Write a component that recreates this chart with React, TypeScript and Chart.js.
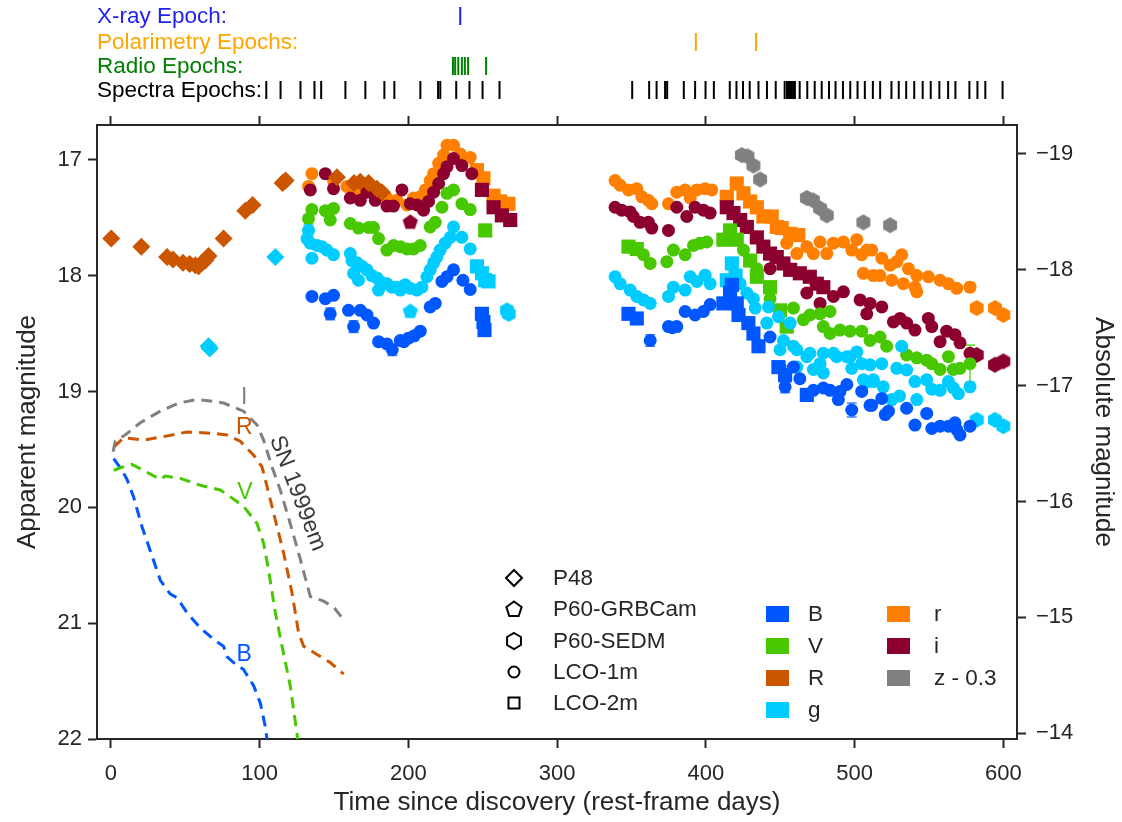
import React, { useEffect, useRef } from "react";
import { Chart, registerables } from "chart.js";

Chart.register(...registerables);

const FONT = "'Liberation Sans', Arial, Helvetica, sans-serif";
const INK = "#262626";

// ---------- axes ----------
const X_MIN = -9.3;
const X_MAX = 609.2;
const Y_MIN = 16.7;
const Y_MAX = 22.0;
const DIST_MOD = 35.95;
const X_TICKS = [0, 100, 200, 300, 400, 500, 600];
const Y_TICKS = [17, 18, 19, 20, 21, 22];
const Y2_TICKS = [-19, -18, -17, -16, -15, -14];

// ---------- epochs (days) ----------
const EPOCH_LABELS = ["X-ray Epoch:", "Polarimetry Epochs:", "Radio Epochs:", "Spectra Epochs:"];
const XRAY_EPOCHS = [234.9];
const POL_EPOCHS = [393.3, 433.8];
const RADIO_EPOCHS = [230.0, 231.5, 233.6, 236.0, 238.0, 240.2, 252.3];
const SPECTRA_EPOCHS = [
  104.5, 114.1, 127.5, 136.9, 141.4, 157.7, 171.1, 183.9, 190.6, 208.1, 220.0, 221.5, 232.2, 241.1, 249.9, 261.3,
  350.5, 361.9, 366.9, 372.6, 374.0, 385.2, 392.8, 399.8, 405.4, 416.1, 420.6, 425.0, 429.5, 435.4, 441.1, 447.0,
  453.0, 454.6, 455.9, 456.8, 457.9, 459.1, 459.9, 463.1, 468.2, 473.2, 477.9, 482.8, 487.2, 492.2, 497.1, 502.0,
  506.9, 512.3, 517.2, 524.8, 529.7, 534.7, 540.1, 545.8, 551.2, 557.0, 562.9, 567.8, 577.2, 582.6, 587.9, 599.5,
];

// ---------- legend text ----------
const INSTRUMENTS = ["P48", "P60-GRBCam", "P60-SEDM", "LCO-1m", "LCO-2m"];
const BAND_NAMES_1 = ["B", "V", "R", "g"];
const BAND_NAMES_2 = ["r", "i", "z - 0.3"];

// ---------- photometry: [day, mag, err?] ----------
const R_P48 = [
  [0.3, 17.68], [20.5, 17.75], [37.8, 17.84], [41.8, 17.86], [48.5, 17.89], [53, 17.9], [56.8, 17.91], [59, 17.92],
  [61.3, 17.89], [63.5, 17.87], [65.7, 17.83], [75.8, 17.68], [90.4, 17.44], [95.3, 17.39], [115.5, 17.2], [117.5, 17.18],
  [152, 17.15], [163.5, 17.2], [167.7, 17.19], [173.3, 17.2], [178.9, 17.25], [182.3, 17.28],
];
const G_P48 = [[65.7, 18.61, 0.03], [66.5, 18.63], [110.6, 17.84]];

const B_LCO1 = [
  [135.2, 18.18, 0.03], [144.2, 18.2, 0.02], [149.7, 18.17, 0.02], [147.5, 18.33, 0.05], [159.8, 18.3, 0.02],
  [167.7, 18.3, 0.02], [172.2, 18.34], [176.6, 18.41], [163.2, 18.44, 0.05], [180, 18.57], [185.6, 18.59],
  [189.2, 18.64, 0.05], [194.6, 18.56], [197, 18.57], [200.1, 18.54], [204, 18.52], [208, 18.48], [214.7, 18.27],
  [218.1, 18.24], [222.6, 18.05], [226, 18.01], [230.4, 17.95], [236.7, 18.04, 0.03], [241.6, 18.12],
  [362.6, 18.56, 0.05], [374.9, 18.44], [377.5, 18.45], [380.5, 18.44], [386.1, 18.31], [392.8, 18.34], [398.4, 18.31],
  [402.9, 18.25], [443.2, 18.53], [449.9, 18.79], [453.3, 18.96, 0.05], [458.9, 18.79], [463.2, 18.89], [472.3, 18.99],
  [479, 18.97], [483.5, 18.99], [489.1, 19.07], [490.2, 19.0], [494.8, 18.94], [498.1, 19.16, 0.06], [504.8, 19.0],
  [510.4, 19.12], [511.5, 19.12], [518.3, 19.06], [520.6, 19.2], [522.8, 19.17], [535, 19.145], [540.6, 19.29],
  [548.5, 19.19], [551.9, 19.32], [557.5, 19.3], [563.1, 19.3], [567.5, 19.27], [568.7, 19.33], [570.9, 19.375],
  [577.6, 19.3],
];
const B_LCO2 = [
  [249.5, 18.33], [250.5, 18.4], [251.2, 18.47], [348, 18.33], [353.6, 18.37], [411.8, 18.24], [416.3, 18.15],
  [417.5, 18.08], [420.8, 18.24], [422, 18.34], [428.6, 18.41], [432, 18.5], [435.4, 18.61], [448.8, 18.79],
  [453.3, 18.86], [467.9, 19.03, 0.05],
];

const V_LCO1 = [
  [132.9, 17.51, 0.03], [135.2, 17.43], [144.2, 17.44], [149.7, 17.42], [147.5, 17.52], [161, 17.55], [166.5, 17.59],
  [173.3, 17.585], [176.6, 17.585], [180, 17.68], [185.6, 17.78], [190, 17.74], [194.6, 17.75], [199.1, 17.77],
  [203.5, 17.77], [208, 17.74], [214.7, 17.58], [218.1, 17.54], [222.6, 17.41], [226, 17.29], [230.4, 17.26],
  [236, 17.38], [241.6, 17.43],
  [358.1, 17.82], [362.6, 17.895, 0.03], [373.8, 17.88], [378.2, 17.78], [386.1, 17.82], [391.7, 17.74],
  [396.1, 17.72], [400.7, 17.71], [425.3, 17.78], [434.3, 17.94], [443.2, 18.2], [449.9, 18.33], [458.9, 18.28],
  [465.6, 18.38], [470, 18.34], [476.8, 18.33], [483.5, 18.31], [479, 18.44], [483.5, 18.5], [490.2, 18.47],
  [496.9, 18.48], [504.8, 18.48], [510.4, 18.56], [517.1, 18.53], [521.6, 18.61], [535, 18.685], [541.8, 18.71],
  [548.5, 18.73], [551.9, 18.76], [557.5, 18.81], [563.1, 18.7], [566.4, 18.81], [570.9, 18.8], [577.6, 18.76, 0.16],
];
const V_LCO2 = [
  [251.7, 17.61], [348, 17.75], [353.6, 17.77], [411.8, 17.69], [416.3, 17.61], [420.8, 17.69], [429.8, 17.87],
  [434.3, 18.01], [443.2, 18.1], [449.9, 18.3], [454.4, 18.44],
];

const G_LCO1 = [
  [132.9, 17.61, 0.05], [131.9, 17.68], [134.1, 17.72], [135.2, 17.85], [138.6, 17.74], [141.9, 17.75], [145.3, 17.78],
  [149.7, 17.82], [161, 17.81], [162.1, 17.87], [163.2, 17.98], [165.5, 17.89], [166.5, 18.04], [168.8, 17.92],
  [172.2, 17.95], [175.5, 18.0], [178.9, 18.02], [180, 18.125], [181.1, 18.05], [185.6, 18.07], [189, 18.1],
  [192.3, 18.1], [194.6, 18.125], [197.9, 18.08], [201.3, 18.11], [205.8, 18.125], [209.1, 18.1], [212.5, 18.01],
  [214.7, 17.95], [217, 17.89], [219.2, 17.84], [221.4, 17.78], [224.8, 17.72], [228.2, 17.67], [230.4, 17.58],
  [236, 17.67], [241.6, 17.77],
  [339, 18.01], [342.4, 18.07], [349.1, 18.125], [353.6, 18.18], [358.1, 18.21], [362.6, 18.24], [374.9, 18.18],
  [378.2, 18.1], [386.1, 18.125], [389.5, 18.01], [394, 18.05], [399.5, 17.996], [402.9, 18.07], [423.1, 18.07],
  [427.6, 18.15], [432, 18.2], [433.2, 18.28], [442.1, 18.27], [441, 18.41], [448.8, 18.355], [456.7, 18.41],
  [452.2, 18.56], [449.9, 18.64], [458.9, 18.61], [461.2, 18.64], [467.9, 18.7], [470, 18.67], [476.8, 18.76],
  [479, 18.67], [485.8, 18.67], [488, 18.7], [494.8, 18.7], [497, 18.7], [501.5, 18.66, 0.04], [461.2, 18.79],
  [472.3, 18.81], [479, 18.84], [498.1, 18.8], [504.8, 18.76], [508.2, 18.92], [512.6, 18.9], [510.4, 18.77],
  [518.3, 18.76], [528.4, 18.8], [535, 18.815], [531.7, 18.61, 0.03], [505.9, 18.9], [512.6, 18.915], [519.3, 18.96],
  [525, 19.07], [530.2, 19.04], [541.8, 19.07], [540.6, 18.915], [548.5, 18.9], [551.9, 18.98], [557.5, 18.99],
  [563.1, 18.915], [566.4, 18.97], [569.8, 19.02], [577.6, 18.96, 0.03],
];
const G_LCO2 = [[246.1, 17.92], [249.5, 17.98], [251.7, 18.04], [253.9, 18.05], [414.1, 18.04], [417.5, 17.895], [420, 18.0]];
const G_GRB = [[201.3, 18.31]];
const G_SEDM = [[266.3, 18.3, 0.03], [267.5, 18.33], [582.1, 19.245], [594.4, 19.245], [600, 19.3]];

const RR_LCO1 = [
  [132.9, 17.23], [135.2, 17.12], [149.7, 17.18], [158.7, 17.23], [164.3, 17.26], [169.9, 17.25], [178.9, 17.28],
  [185.6, 17.33], [192.3, 17.35], [199.1, 17.39], [203.5, 17.33], [208, 17.32], [211.4, 17.26], [214.7, 17.18],
  [217, 17.12], [220.4, 17.03], [223.7, 16.96], [226, 16.875], [230.4, 16.875], [234.9, 16.95], [241.6, 16.98],
  [339, 17.18], [342.4, 17.22], [348, 17.26], [353.6, 17.25], [357, 17.32], [361.4, 17.35], [363.7, 17.38],
  [374.9, 17.38], [380.5, 17.28], [386.1, 17.26], [389.5, 17.33], [394, 17.26], [399.5, 17.25], [404, 17.26],
  [454.4, 17.72], [461.2, 17.81], [467.9, 17.75], [472.3, 17.81], [476.8, 17.71], [481.3, 17.81], [485.8, 17.72],
  [492.5, 17.71], [498.1, 17.78], [501.5, 17.69], [504.8, 17.82], [508.2, 17.78], [511.5, 17.78], [518.3, 17.85],
  [523.9, 17.91], [528.4, 17.88], [531.7, 17.82], [536.2, 17.94], [541.8, 18.0], [549.6, 18.01], [557.5, 18.04],
  [563.1, 18.07], [568.7, 18.11], [577.6, 18.1, 0.04], [505.9, 17.98], [512.6, 18.0], [517.1, 18.0], [525, 18.04],
  [532.8, 18.07], [540.6, 18.1], [541.8, 18.14],
];
const RR_LCO2 = [
  [246.1, 17.09], [250.5, 17.16], [257.3, 17.31], [261.8, 17.36], [267.3, 17.38], [414.1, 17.32], [420.8, 17.205],
  [425.3, 17.29], [429.8, 17.36], [434.3, 17.41], [438.7, 17.49], [444.3, 17.49], [447.7, 17.58], [451.1, 17.59],
  [456.7, 17.64], [462.2, 17.65],
];
const RR_SEDM = [[582.1, 18.28], [594.4, 18.28], [600, 18.34]];

const I_LCO1 = [
  [134.1, 17.26], [144.2, 17.12], [149.7, 17.25], [161, 17.33], [167.7, 17.35], [172.2, 17.28], [177.8, 17.35],
  [185.6, 17.4], [190, 17.4], [195.7, 17.26], [201.3, 17.38], [205.8, 17.39], [210.2, 17.435], [213.6, 17.36],
  [217, 17.28], [220.4, 17.205], [223.7, 17.12], [226, 17.06], [230.4, 16.99], [236, 17.05], [242.7, 17.12],
  [339, 17.41], [343.5, 17.435], [349.1, 17.45], [351.3, 17.49], [355.8, 17.54], [361.4, 17.54], [363.7, 17.59],
  [374.9, 17.61], [380.5, 17.41], [387.2, 17.49], [392.8, 17.41], [398.4, 17.435], [402.9, 17.46], [443.2, 17.94],
  [467.9, 18.15], [476.8, 18.24], [485.8, 18.18], [492.5, 18.14], [503.7, 18.21], [508.2, 18.33], [510.4, 18.24],
  [518.3, 18.27], [526.1, 18.4], [530.6, 18.37], [535, 18.41], [540.6, 18.47], [549.6, 18.37, 0.03], [551.9, 18.44],
  [557.5, 18.57], [561.9, 18.48], [567.5, 18.51], [570.9, 18.58], [577.6, 18.67],
];
const I_LCO2 = [
  [249.5, 17.26], [257.3, 17.41], [262.9, 17.48], [268.5, 17.52], [414.1, 17.41], [418.6, 17.46], [423.1, 17.52],
  [427.6, 17.58], [434.3, 17.67], [438.7, 17.75], [443.2, 17.81], [447.7, 17.84], [452.2, 17.895], [456.7, 17.95],
  [463.2, 17.98], [469.9, 18.01], [474.6, 18.07], [479, 18.1],
];
const I_GRB = [[201.3, 17.54]];
const I_SEDM = [[582.1, 18.685], [594.4, 18.77], [600, 18.74]];

const Z_SEDM = [
  [424.2, 16.96, 0.03], [428, 16.97], [432, 17.05], [436.5, 17.17], [467.9, 17.33, 0.03], [472, 17.35],
  [476.8, 17.42], [481.3, 17.48, 0.03], [505.9, 17.54, 0.03], [523.9, 17.565],
];

// ---------- SN 1999em templates ----------
const TPL_I = [
  [1.5, 19.52], [3, 19.43], [9.7, 19.375], [19.8, 19.27], [33.3, 19.17], [45.6, 19.1], [57.9, 19.07], [71.4, 19.09],
  [75.8, 19.1], [89.2, 19.17], [98.3, 19.29], [102.7, 19.42], [108.3, 19.65], [113.9, 19.85], [120.6, 20.14],
  [127.4, 20.45], [134.1, 20.77], [143, 20.81], [149.7, 20.86], [156.5, 20.97],
];
const TPL_R = [
  [1.9, 19.48], [8.6, 19.4], [22, 19.42], [35.5, 19.39], [51.2, 19.35], [66.9, 19.36], [78.1, 19.375], [87, 19.43],
  [96, 19.55], [101.6, 19.65], [105, 19.82], [110.6, 20.11], [116.1, 20.39], [121.8, 20.74], [126.2, 21.08],
  [129.6, 21.2], [138.6, 21.27], [147.5, 21.34], [156.5, 21.44],
];
const TPL_V = [
  [1.9, 19.68], [8.6, 19.65], [14.2, 19.63], [23.2, 19.69], [33.3, 19.76], [36.6, 19.73], [46.7, 19.75], [60.1, 19.81],
  [73.6, 19.85], [76.9, 19.88], [84.8, 19.95], [90.4, 20.01], [98.3, 20.14], [102.7, 20.31], [106, 20.54],
  [110.6, 20.91], [115.1, 21.2], [120.6, 21.54], [125.1, 21.95], [126.5, 22.1],
];
const TPL_B = [
  [1.9, 19.58], [7.5, 19.68], [10.9, 19.76], [15.3, 19.91], [21, 20.17], [27.7, 20.42], [33.3, 20.63], [40, 20.75],
  [44.5, 20.78], [51.2, 20.91], [60.1, 21.04], [69.1, 21.14], [75.8, 21.2], [78.1, 21.29], [82.5, 21.34],
  [89.2, 21.4], [96, 21.54], [100.5, 21.69], [103.8, 21.89], [105.8, 22.08],
];
const TPL_LABELS = ["I", "R", "V", "B"];
const TPL_LABEL_POS = [[89.7, 19.05], [89.7, 19.31], [90.2, 19.87], [89.7, 21.27]];
const SN_LABEL = "SN 1999em";
const SN_LABEL_POS = [125.5, 19.88];

// ---------- colours ----------
const C_B = "#0057ff";
const C_V = "#48c800";
const C_R = "#cc5500";
const C_G = "#00ccff";
const C_RR = "#ff8000";
const C_I = "#8b0030";
const C_Z = "#808080";
const BAND_COLORS_1 = [C_B, C_V, C_R, C_G];
const BAND_COLORS_2 = [C_RR, C_I, C_Z];
const TPL_COLORS = [C_Z, C_R, C_V, C_B];
const EPOCH_COLORS = ["#1f1ff0", "#ffa500", "#008000", "#000000"];

function polyPath(ctx: any, cx: number, cy: number, r: number, sides: number) {
  ctx.beginPath();
  for (let k = 0; k < sides; k++) {
    const a = -Math.PI / 2 + (k * 2 * Math.PI) / sides;
    const px = cx + r * Math.cos(a);
    const py = cy + r * Math.sin(a);
    if (k === 0) ctx.moveTo(px, py);
    else ctx.lineTo(px, py);
  }
  ctx.closePath();
}

function polyCanvas(sides: number, r: number, color: string) {
  const s = Math.ceil(r * 2 + 2);
  const c = document.createElement("canvas");
  c.width = s;
  c.height = s;
  const g = c.getContext("2d")!;
  polyPath(g, s / 2, s / 2, r, sides);
  g.fillStyle = color;
  g.fill();
  return c;
}

const errorBarPlugin = {
  id: "errbars",
  beforeDatasetsDraw(chart: any) {
    const { ctx, chartArea } = chart;
    const xs = chart.scales.x;
    const ys = chart.scales.y;
    ctx.save();
    ctx.beginPath();
    ctx.rect(chartArea.left, chartArea.top, chartArea.right - chartArea.left, chartArea.bottom - chartArea.top);
    ctx.clip();
    chart.data.datasets.forEach((ds: any) => {
      if (ds.showLine) return;
      ctx.strokeStyle = ds.borderColor;
      ctx.globalAlpha = 0.75;
      ctx.lineWidth = 1.6;
      ds.data.forEach((p: any) => {
        if (!p.e) return;
        const px = xs.getPixelForValue(p.x);
        const y1 = ys.getPixelForValue(p.y - p.e);
        const y2 = ys.getPixelForValue(p.y + p.e);
        ctx.beginPath();
        ctx.moveTo(px, y1);
        ctx.lineTo(px, y2);
        ctx.moveTo(px - 5, y1);
        ctx.lineTo(px + 5, y1);
        ctx.moveTo(px - 5, y2);
        ctx.lineTo(px + 5, y2);
        ctx.stroke();
      });
    });
    ctx.restore();
  },
};

const annotationPlugin = {
  id: "annot",
  afterDraw(chart: any) {
    const ctx = chart.ctx;
    const xs = chart.scales.x;
    const ys = chart.scales.y;
    ctx.save();
    // epoch rows
    const rowVals = [XRAY_EPOCHS, POL_EPOCHS, RADIO_EPOCHS, SPECTRA_EPOCHS];
    const rowY = [16, 42, 66, 90];
    ctx.font = `22.5px ${FONT}`;
    ctx.textBaseline = "middle";
    ctx.textAlign = "left";
    EPOCH_LABELS.forEach((lab, k) => {
      const y = rowY[k];
      ctx.fillStyle = EPOCH_COLORS[k];
      ctx.fillText(lab, 97, y + 1);
      ctx.strokeStyle = EPOCH_COLORS[k];
      ctx.lineWidth = 2;
      rowVals[k].forEach((v) => {
        const px = xs.getPixelForValue(v);
        ctx.beginPath();
        ctx.moveTo(px, y - 9);
        ctx.lineTo(px, y + 9);
        ctx.stroke();
      });
    });

    // template labels
    ctx.font = `23px ${FONT}`;
    ctx.textAlign = "center";
    TPL_LABELS.forEach((lab, k) => {
      ctx.fillStyle = TPL_COLORS[k];
      ctx.fillText(lab, xs.getPixelForValue(TPL_LABEL_POS[k][0]), ys.getPixelForValue(TPL_LABEL_POS[k][1]));
    });
    ctx.save();
    ctx.translate(xs.getPixelForValue(SN_LABEL_POS[0]), ys.getPixelForValue(SN_LABEL_POS[1]));
    ctx.rotate((69 * Math.PI) / 180);
    ctx.fillStyle = "#3a3a3a";
    ctx.fillText(SN_LABEL, 0, 0);
    ctx.restore();

    // instrument legend
    ctx.font = `22.5px ${FONT}`;
    ctx.textAlign = "left";
    const instY = [578, 609, 641, 672, 703];
    const mx = 514;
    ctx.strokeStyle = "#000";
    ctx.lineWidth = 2;
    instY.forEach((y, k) => {
      ctx.beginPath();
      if (k === 0) {
        ctx.moveTo(mx, y - 8);
        ctx.lineTo(mx + 8, y);
        ctx.lineTo(mx, y + 8);
        ctx.lineTo(mx - 8, y);
        ctx.closePath();
      } else if (k === 1) {
        polyPath(ctx, mx, y + 0.5, 8, 5);
      } else if (k === 2) {
        polyPath(ctx, mx, y, 8, 6);
      } else if (k === 3) {
        ctx.arc(mx, y, 5.5, 0, Math.PI * 2);
      } else {
        ctx.rect(mx - 5.5, y - 5.5, 11, 11);
      }
      ctx.stroke();
      ctx.fillStyle = INK;
      ctx.fillText(INSTRUMENTS[k], 553, y + 1);
    });

    // band legend
    const bandY = [614, 646, 678, 710];
    BAND_NAMES_1.forEach((lab, k) => {
      ctx.fillStyle = BAND_COLORS_1[k];
      ctx.fillRect(766, bandY[k] - 8, 23, 16);
      ctx.fillStyle = INK;
      ctx.fillText(lab, 808, bandY[k] + 1);
    });
    BAND_NAMES_2.forEach((lab, k) => {
      ctx.fillStyle = BAND_COLORS_2[k];
      ctx.fillRect(887, bandY[k] - 8, 23, 16);
      ctx.fillStyle = INK;
      ctx.fillText(lab, 934, bandY[k] + 1);
    });
    ctx.restore();
  },
};

function pts(arr: number[][]) {
  return arr.map((a) => ({ x: a[0], y: a[1], e: a[2] }));
}

export default function App() {
  const ref = useRef<HTMLCanvasElement>(null);

  useEffect(() => {
    const canvas = ref.current!;
    const pent = (c: string) => polyCanvas(5, 8, c);
    const hex = (c: string) => polyCanvas(6, 8, c);

    const obs = (data: number[][], color: string, style: any, radius: number) => ({
      data: pts(data),
      backgroundColor: color,
      borderColor: color,
      borderWidth: 0,
      pointStyle: style,
      pointRadius: radius,
      showLine: false,
      xAxisID: "x",
      yAxisID: "y",
    });
    const tpl = (data: number[][], color: string) => ({
      type: "line",
      data: pts(data),
      borderColor: color,
      backgroundColor: color,
      borderWidth: 3,
      borderDash: [11, 7],
      pointRadius: 0,
      showLine: true,
      fill: false,
      tension: 0,
      xAxisID: "x",
      yAxisID: "y",
    });

    const CIRC = 6.5;
    const SQ = 10;
    const DIA = 9;

    const datasets: any[] = [
      tpl(TPL_I, C_Z),
      tpl(TPL_R, C_R),
      tpl(TPL_V, C_V),
      tpl(TPL_B, C_B),
      obs(R_P48, C_R, "rectRot", DIA),
      obs(G_P48, C_G, "rectRot", DIA),
      obs(B_LCO1, C_B, "circle", CIRC),
      obs(B_LCO2, C_B, "rect", SQ),
      obs(G_LCO1, C_G, "circle", CIRC),
      obs(G_LCO2, C_G, "rect", SQ),
      obs(G_GRB, C_G, pent(C_G), 8),
      obs(G_SEDM, C_G, hex(C_G), 8),
      obs(V_LCO1, C_V, "circle", CIRC),
      obs(V_LCO2, C_V, "rect", SQ),
      obs(I_LCO1, C_I, "circle", CIRC),
      obs(I_LCO2, C_I, "rect", SQ),
      obs(I_GRB, C_I, pent(C_I), 8),
      obs(I_SEDM, C_I, hex(C_I), 8),
      obs(RR_LCO1, C_RR, "circle", CIRC),
      obs(RR_LCO2, C_RR, "rect", SQ),
      obs(RR_SEDM, C_RR, hex(C_RR), 8),
      obs(Z_SEDM, C_Z, hex(C_Z), 8),
    ];

    const tickFont = { size: 22, family: FONT };
    const titleFont = { size: 26, family: FONT };
    const grid = { drawOnChartArea: false, drawTicks: true, tickLength: 9, tickWidth: 2, tickColor: INK };
    const border = { display: true, color: INK, width: 2 };

    const chart = new Chart(canvas, {
      type: "scatter",
      data: { datasets },
      options: {
        animation: false,
        responsive: false,
        devicePixelRatio: 1,
        layout: { padding: 0 },
        plugins: { legend: { display: false }, tooltip: { enabled: false } },
        scales: {
          x: {
            type: "linear",
            position: "bottom",
            min: X_MIN,
            max: X_MAX,
            afterBuildTicks: (s: any) => {
              s.ticks = X_TICKS.map((v) => ({ value: v }));
            },
            afterFit: (s: any) => {
              s.height = 83;
            },
            ticks: { font: tickFont, color: INK, padding: 13, maxRotation: 0, autoSkip: false },
            grid,
            border,
            title: {
              display: true,
              text: "Time since discovery (rest-frame days)",
              font: titleFont,
              color: INK,
              padding: { top: 0, bottom: 4 },
            },
          },
          x2: {
            type: "linear",
            position: "top",
            min: X_MIN,
            max: X_MAX,
            afterBuildTicks: (s: any) => {
              s.ticks = X_TICKS.map((v) => ({ value: v }));
            },
            afterFit: (s: any) => {
              s.height = 125;
            },
            ticks: { display: false },
            grid,
            border,
          },
          y: {
            type: "linear",
            position: "left",
            reverse: true,
            min: Y_MIN,
            max: Y_MAX,
            afterBuildTicks: (s: any) => {
              s.ticks = Y_TICKS.map((v) => ({ value: v }));
            },
            afterFit: (s: any) => {
              s.width = 97;
            },
            ticks: { font: tickFont, color: INK, padding: 6 },
            grid,
            border,
            title: {
              display: true,
              text: "Apparent magnitude",
              font: titleFont,
              color: INK,
              padding: { top: 12, bottom: 0 },
            },
          },
          y2: {
            type: "linear",
            position: "right",
            reverse: true,
            min: Y_MIN - DIST_MOD,
            max: Y_MAX - DIST_MOD,
            afterBuildTicks: (s: any) => {
              s.ticks = Y2_TICKS.map((v) => ({ value: v }));
            },
            afterFit: (s: any) => {
              s.width = 105;
            },
            ticks: {
              font: tickFont,
              color: INK,
              padding: 10,
              callback: (v: any) => (v < 0 ? "\u2212" + Math.abs(v) : String(v)),
            },
            grid,
            border,
            title: {
              display: true,
              text: "Absolute magnitude",
              font: titleFont,
              color: INK,
              padding: { top: 3, bottom: 0 },
            },
          },
        },
      },
      plugins: [errorBarPlugin, annotationPlugin],
    } as any);

    return () => chart.destroy();
  }, []);

  return (
    <div style={{ position: "absolute", left: 0, top: 0, width: 1122, height: 822, background: "#fff" }}>
      <canvas ref={ref} width={1122} height={822} style={{ display: "block", width: 1122, height: 822 }} />
    </div>
  );
}
